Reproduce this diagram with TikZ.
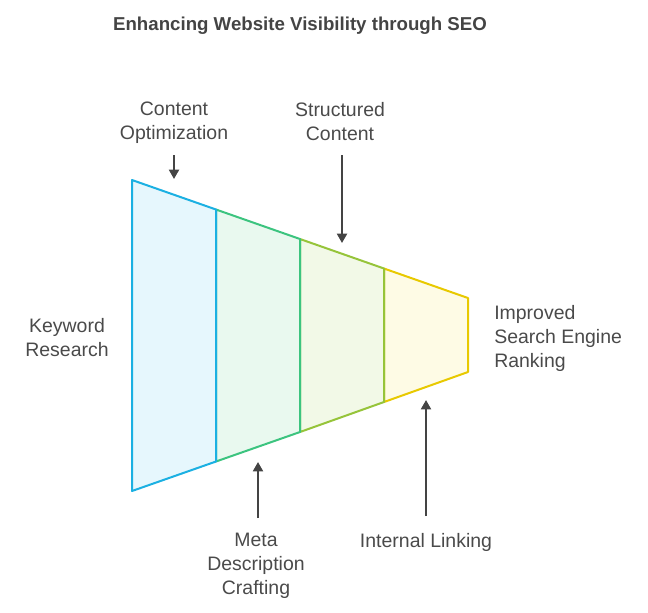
\documentclass[tikz,border=0pt]{standalone}
\usepackage{fontspec}
\setmainfont{Liberation Sans}
\usetikzlibrary{arrows.meta}
\definecolor{txt}{HTML}{4A4A4A}
\definecolor{ttl}{HTML}{444444}
\definecolor{arr}{HTML}{444444}
\definecolor{sA}{HTML}{1BB0E2}\definecolor{fA}{HTML}{E6F7FD}
\definecolor{sB}{HTML}{3CC47F}\definecolor{fB}{HTML}{E9F9EF}
\definecolor{sC}{HTML}{96C43A}\definecolor{fC}{HTML}{F2F9E7}
\definecolor{sD}{HTML}{E8C900}\definecolor{fD}{HTML}{FEFBE5}
\tikzset{
  lbl/.style={text=txt, font=\fontsize{14.6}{18}\selectfont, align=center, inner sep=0pt},
  seg/.style={line width=1.5pt, line join=round},
  pointer/.style={draw=arr, line width=1.5pt, -{Triangle[width=7.5pt,length=7pt]}}
}
\begin{document}
\begin{tikzpicture}[x=0.75pt,y=-0.75pt]
\useasboundingbox (0,0) rectangle (648,612);
% segments drawn right to left
\draw[seg, draw=sD, fill=fD] (384,268.5) -- (468,298) -- (468,372) -- (384,402) -- cycle;
\draw[seg, draw=sC, fill=fC] (300,239) -- (384,268.5) -- (384,402) -- (300,432) -- cycle;
\draw[seg, draw=sB, fill=fB] (216,209.5) -- (300,239) -- (300,432) -- (216,461.5) -- cycle;
\draw[seg, draw=sA, fill=fA] (132,180) -- (216,209.5) -- (216,461.5) -- (132,491) -- cycle;
% title
\node[text=ttl, font=\fontsize{14}{18}\selectfont\bfseries, inner sep=0pt] (title) at (300,26) {Enhancing Website Visibility through SEO};
% labels
\node[lbl] (co) at (174,122.5) {Content\\Optimization};
\node[lbl] (sc) at (340,122) {Structured\\Content};
\node[lbl] (kr) at (67,337.5) {Keyword\\Research};
\node[lbl, align=left, anchor=west] (ir) at (494,338) {Improved\\Search Engine\\Ranking};
\node[lbl] (md) at (256,566) {Meta\\Description\\Crafting};
\node[lbl] (il) at (426,542) {Internal Linking};
% arrow anchors
\coordinate (coS) at (174,155); \coordinate (coT) at (174,179);
\coordinate (scS) at (342,155); \coordinate (scT) at (342,243);
\coordinate (mdS) at (258,518); \coordinate (mdT) at (258,462);
\coordinate (ilS) at (426,516); \coordinate (ilT) at (426,400);
\draw[pointer] (coS) -- (coT);
\draw[pointer] (scS) -- (scT);
\draw[pointer] (mdS) -- (mdT);
\draw[pointer] (ilS) -- (ilT);
\end{tikzpicture}
\end{document}
